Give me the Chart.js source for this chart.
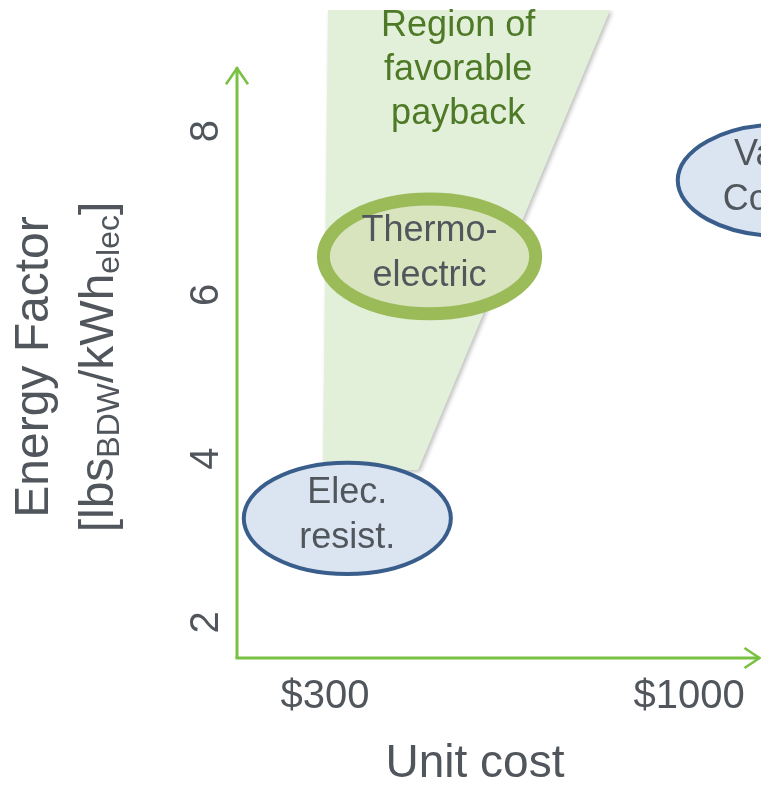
<!DOCTYPE html>
<html><head><meta charset="utf-8">
<script src="https://cdn.jsdelivr.net/npm/chart.js@4/dist/chart.umd.min.js"></script>
<style>html,body{margin:0;padding:0;background:#fff;}#wrap{width:761px;height:789px;position:relative;}</style>
</head><body><div id="wrap"><canvas id="c" width="761" height="789"></canvas></div>
<script>
// ---- data ----
const xTickValues = [300, 1000];
const yTickValues = [2, 4, 6, 8];
const xRange = [131, 1138];
const yRange = [1.564, 9.48];
const yAxisArrowEnd = 8.78;
const regionX = [306, 848, 479, 296];
const regionY = [9.48, 9.48, 3.86, 3.84];
const regionLabel = ['Region of', 'favorable', 'payback'];
const regionLabelAt = [556, 9.28];
const techNames = [['Elec.', 'resist.'], ['Thermo-', 'electric'], ['Vapor', 'Compr.']];
const techCostLow = [144, 297, 978];
const techCostHigh = [542, 705, 1374];
const techEFLow = [2.59, 5.77, 6.72];
const techEFHigh = [3.95, 7.17, 8.08];

// ---- styles ----
const FONT = '"Liberation Sans", Arial, sans-serif';
const TEXT = '#50565c';
const AXIS = '#79c143';
const techStyle = [
  {fill:'#dbe4f1', stroke:'#3a5e8c', width:4},
  {fill:'#d7e4bd', stroke:'#9bbb59', width:13},
  {fill:'#dbe4f1', stroke:'#3a5e8c', width:4}
];

const decor = {
  id:'decor',
  beforeDatasetsDraw(chart){
    const c = chart.ctx; c.save();
    c.shadowColor='rgba(0,0,0,0.25)'; c.shadowBlur=4; c.shadowOffsetX=2; c.shadowOffsetY=2;
  },
  afterDatasetsDraw(chart){
    const c = chart.ctx; c.restore();
    const xs = chart.scales.x, ys = chart.scales.y, a = chart.chartArea;
    // axes with arrows
    c.save();
    c.strokeStyle = AXIS; c.lineWidth = 3; c.lineCap='butt';
    const x0 = a.left, y0 = a.bottom, yTop = ys.getPixelForValue(yAxisArrowEnd), xEnd = a.right - 1.5;
    c.beginPath(); c.moveTo(x0, y0); c.lineTo(x0, yTop); c.stroke();
    c.beginPath(); c.moveTo(x0-1.5, y0); c.lineTo(xEnd, y0); c.stroke();
    c.lineWidth = 2.6;
    c.beginPath(); c.moveTo(x0-11, yTop+17); c.lineTo(x0, yTop+1); c.lineTo(x0+11, yTop+17); c.stroke();
    c.beginPath(); c.moveTo(xEnd-15, y0-10); c.lineTo(xEnd, y0); c.lineTo(xEnd-15, y0+10); c.stroke();
    c.restore();
    // region label
    c.save();
    c.fillStyle = '#4e7a27'; c.font = '36px ' + FONT; c.textAlign='center'; c.textBaseline='middle';
    const rx = xs.getPixelForValue(regionLabelAt[0]), ry = ys.getPixelForValue(regionLabelAt[1]);
    regionLabel.forEach((t,i)=> c.fillText(t, rx, ry + i*44));
    c.restore();
    // technology ellipses
    techNames.forEach((lines, i)=>{
      const xa = xs.getPixelForValue(techCostLow[i]), xb = xs.getPixelForValue(techCostHigh[i]);
      const ya = ys.getPixelForValue(techEFLow[i]), yb = ys.getPixelForValue(techEFHigh[i]);
      const cx = (xa+xb)/2, cy = (ya+yb)/2, rX = Math.abs(xb-xa)/2, rY = Math.abs(yb-ya)/2;
      const st = techStyle[i];
      c.save();
      c.beginPath(); c.ellipse(cx, cy, rX, rY, 0, 0, Math.PI*2);
      c.fillStyle = st.fill; c.fill();
      c.lineWidth = st.width; c.strokeStyle = st.stroke; c.stroke();
      c.fillStyle = TEXT; c.font = '36px ' + FONT; c.textAlign='center'; c.textBaseline='middle';
      c.fillText(lines[0], cx, cy - 25);
      c.fillText(lines[1], cx, cy + 20);
      c.restore();
    });
  },
  afterDraw(chart){
    const c = chart.ctx;
    c.save();
    c.fillStyle = TEXT; c.textBaseline='middle'; c.textAlign='center';
    c.font = '46px ' + FONT;
    c.fillText('Unit cost', 475, 764);
    // y title
    c.translate(35, 367); c.rotate(-Math.PI/2);
    c.font = '48px ' + FONT;
    c.fillText('Energy Factor', 0, 0);
    const segs = [['[lbs',48,0],['BDW',32,10],['/kWh',48,0],['elec',32,10],[']',48,0]];
    let total = 0;
    segs.forEach(s=>{ c.font = s[1]+'px '+FONT; total += c.measureText(s[0]).width; });
    let px = -total/2;
    c.textAlign='left';
    segs.forEach(s=>{ c.font = s[1]+'px '+FONT; c.fillText(s[0], px, 65 + s[2]); px += c.measureText(s[0]).width; });
    c.restore();
  }
};

new Chart(document.getElementById('c'), {
  type:'scatter',
  data:{ datasets:[{
    type:'line', label:'Region of favorable payback',
    data: regionX.map((x,i)=>({x, y: regionY[i]})).concat([{x: regionX[0], y: regionY[0]}]),
    showLine:true, fill:'shape', backgroundColor:'#e3f0d9', borderColor:'rgba(0,0,0,0)', borderWidth:0,
    pointRadius:0, tension:0
  }]},
  options:{
    responsive:false, animation:false,
    layout:{padding:{top:10,left:0,right:0,bottom:0}},
    plugins:{legend:{display:false}, tooltip:{enabled:false}},
    scales:{
      x:{type:'linear', min:xRange[0], max:xRange[1],
        grid:{display:false, drawTicks:false}, border:{display:false},
        afterBuildTicks:s=>{ s.ticks = xTickValues.map(v=>({value:v})); },
        afterFit:s=>{ s.height = 131; s.paddingLeft = 0; s.paddingRight = 0; },
        ticks:{autoSkip:false, maxRotation:0, padding:15, color:TEXT, font:{family:FONT, size:40}, callback:v=>'$'+v}
      },
      y:{type:'linear', min:yRange[0], max:yRange[1],
        grid:{display:false, drawTicks:false}, border:{display:false},
        afterBuildTicks:s=>{ s.ticks = yTickValues.map(v=>({value:v})); },
        afterFit:s=>{ s.width = 237; s.paddingTop = 0; s.paddingBottom = 0; },
        ticks:{autoSkip:false, minRotation:90, maxRotation:90, crossAlign:'center', padding:19, color:TEXT, font:{family:FONT, size:40}}
      }
    }
  },
  plugins:[decor]
});
</script></body></html>
